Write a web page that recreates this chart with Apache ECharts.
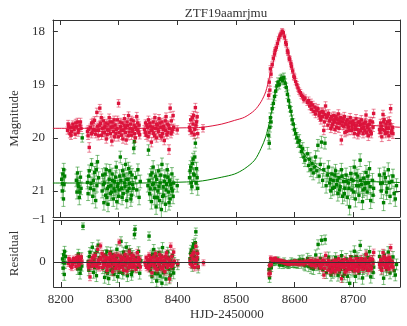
<!DOCTYPE html>
<html>
<head>
<meta charset="utf-8">
<script src="https://cdn.jsdelivr.net/npm/echarts@6/dist/echarts.min.js"></script>
<style>
  html, body { margin: 0; padding: 0; background: #fff; }
  #lc { width: 407px; height: 326px; }
</style>
</head>
<body>
<div id="lc"></div>
<script>
// light curve of ZTF19aamrjmu
var modelDays = [8188, 8250, 8333, 8416, 8443, 8476, 8498, 8515, 8532, 8543, 8551, 8557, 8562, 8568, 8573, 8576, 8580, 8584, 8587, 8590, 8593, 8596, 8601, 8605, 8611, 8620, 8626, 8631, 8639, 8648, 8659, 8670, 8681, 8698, 8720, 8750, 8780];
var redModel = [19.82, 19.82, 19.82, 19.81, 19.80, 19.74, 19.67, 19.61, 19.48, 19.32, 19.13, 18.87, 18.66, 18.38, 18.16, 18.07, 17.98, 18.12, 18.28, 18.42, 18.53, 18.68, 18.90, 19.00, 19.16, 19.29, 19.35, 19.40, 19.48, 19.54, 19.57, 19.61, 19.64, 19.70, 19.75, 19.78, 19.80];
var greenModel = [20.85, 20.85, 20.85, 20.83, 20.81, 20.74, 20.68, 20.58, 20.42, 20.20, 19.98, 19.72, 19.45, 19.12, 18.95, 18.88, 18.84, 18.91, 19.05, 19.23, 19.45, 19.62, 19.85, 19.99, 20.20, 20.36, 20.43, 20.48, 20.55, 20.61, 20.67, 20.72, 20.75, 20.80, 20.82, 20.83, 20.84];

// [HJD-2450000, mag, err]
var redObs = [
  [8213,19.86,.07],[8215,19.78,.06],[8217,19.92,.08],[8218,19.80,.06],[8220,19.88,.07],[8222,19.74,.06],[8224,19.84,.07],[8226,19.93,.08],[8228,19.79,.06],[8230,19.70,.07],[8232,19.85,.06],[8234,19.76,.07],[8236,19.82,.06],
  [8214,19.74,.07],[8219,19.95,.08],[8223,19.80,.07],[8227,19.72,.07],[8231,19.90,.07],[8235,19.70,.07],
  [8247,19.88,.08],[8248,19.96,.07],[8250,20.18,.09],[8252,19.80,.06],[8254,19.72,.07],[8255,19.90,.06],[8257,19.84,.08],[8259,19.67,.07],[8261,19.93,.07],[8263,19.52,.08],[8264,19.78,.06],[8266,19.86,.07],[8268,19.44,.07],[8269,19.73,.06],[8271,19.95,.08],[8272,19.82,.06],[8274,19.68,.07],[8276,19.90,.07],[8277,19.78,.06],[8279,20.02,.08],[8281,19.85,.07],[8282,19.74,.06],[8284,19.62,.07],[8286,19.92,.08],[8287,19.80,.06],[8289,19.70,.07],[8291,19.88,.07],[8293,19.98,.08],[8294,19.76,.06],[8296,19.84,.07],[8298,19.66,.07],[8300,19.35,.07],[8301,19.90,.07],[8303,19.79,.06],[8305,19.95,.08],[8306,19.72,.07],[8308,19.86,.06],[8310,19.64,.08],[8312,19.81,.06],[8313,20.04,.08],[8315,19.77,.07],[8317,19.58,.07],[8318,19.89,.06],[8320,19.74,.07],[8322,19.95,.08],[8324,19.83,.06],[8325,19.68,.07],[8327,19.92,.07],[8329,19.80,.06],[8331,19.60,.08],[8333,19.86,.07],[8335,19.76,.06],[8336,19.94,.08],
  [8248.5,19.84,.07],[8253.5,19.92,.08],[8256.5,19.70,.07],[8260.5,19.86,.07],[8265.5,19.96,.08],[8267.5,19.76,.07],[8270.5,19.62,.07],[8273.5,19.90,.08],[8275.5,19.80,.07],[8278.5,19.72,.07],[8280.5,19.94,.08],[8283.5,19.86,.07],[8285.5,19.70,.07],[8288.5,20.06,.09],[8290.5,19.78,.07],[8292.5,19.66,.07],[8295.5,19.92,.08],[8297.5,19.82,.07],[8299.5,19.98,.08],[8302.5,19.70,.07],[8304.5,19.86,.07],[8307.5,20.02,.08],[8309.5,19.76,.07],[8311.5,19.90,.07],[8314.5,19.70,.07],[8316.5,19.96,.08],[8319.5,19.82,.07],[8321.5,19.66,.07],[8323.5,19.88,.07],[8326.5,19.76,.07],[8328.5,20.00,.08],[8330.5,19.84,.07],[8332.5,19.72,.07],[8334.5,19.90,.08],
  [8344,19.84,.07],[8346,19.72,.06],[8347,19.95,.08],[8349,19.80,.07],[8351,19.66,.07],[8352,19.90,.06],[8354,19.78,.07],[8356,20.08,.09],[8357,19.86,.07],[8359,19.70,.07],[8360,19.92,.08],[8362,19.62,.07],[8363,19.82,.06],[8365,20.00,.08],[8366,19.76,.06],[8368,19.88,.07],[8369,19.64,.08],[8371,19.96,.07],[8372,19.80,.06],[8374,19.70,.07],[8375,19.92,.08],[8377,19.78,.06],[8378,20.05,.08],[8380,19.86,.07],[8381,19.60,.07],[8383,19.74,.06],[8384,19.90,.07],[8386,20.22,.09],[8387,19.82,.06],[8388,19.44,.08],[8390,19.68,.07],[8391,19.88,.07],[8393,19.58,.08],[8394,19.80,.06],
  [8345.5,19.90,.07],[8348.5,19.76,.07],[8350.5,19.98,.08],[8353.5,19.72,.07],[8355.5,19.86,.07],[8358.5,19.80,.07],[8361.5,19.96,.08],[8364.5,19.74,.07],[8367.5,19.84,.07],[8370.5,19.72,.07],[8373.5,19.98,.08],[8376.5,19.84,.07],[8379.5,19.68,.07],[8382.5,19.94,.08],[8385.5,19.76,.07],[8389.5,19.92,.08],[8392.5,19.84,.07],
  [8400,19.85,.08],[8421,19.80,.07],[8423,19.66,.08],[8425,19.90,.07],[8427,19.74,.07],[8428,19.58,.08],[8430,19.84,.07],[8431,19.43,.08],[8433,19.70,.07],[8435,19.92,.08],[8444,19.82,.07],
  [8422,19.86,.08],[8426,19.62,.08],[8429,19.94,.08],[8432,19.76,.08],[8434,19.60,.08],
  [8556,19.20,.07],[8557,18.95,.06],[8558,19.10,.07],[8559,18.70,.06],[8560,18.80,.06],[8562,18.62,.05],[8564,18.50,.05],[8566,18.42,.05],[8567,18.35,.05],[8569,18.30,.05],[8571,18.22,.05],[8573,18.14,.05],[8575,18.08,.05],[8577,18.04,.05],[8579,17.99,.05],[8581,18.02,.05],[8583,18.10,.05],[8585,18.20,.05],[8586,18.24,.05],[8588,18.36,.05],[8589,18.40,.05],[8591,18.50,.05],[8592,18.52,.05],[8594,18.60,.05],[8595,18.66,.05],[8597,18.74,.05],[8599,18.84,.06],[8600,18.86,.06],[8602,18.94,.06],[8604,19.00,.06],[8606,19.06,.06],[8608,19.12,.06],[8610,19.15,.06],[8612,19.20,.06],[8614,19.22,.06],[8616,19.28,.06],[8618,19.25,.06],
  [8622,19.33,.06],[8624,19.30,.07],[8626,19.40,.07],[8628,19.34,.07],[8629,19.46,.07],[8631,19.38,.07],[8633,19.50,.07],[8635,19.42,.07],[8636,19.55,.07],[8638,19.48,.07],[8640,19.45,.08],[8642,19.58,.07],[8643,19.52,.07],[8645,19.66,.08],[8647,19.50,.07],[8648,19.60,.07],[8650,19.86,.08],[8652,19.56,.07],[8653,19.40,.08],[8655,19.62,.07],[8657,19.76,.08],[8658,19.54,.07],[8660,19.68,.07],[8662,19.82,.08],[8663,19.60,.07],[8665,19.74,.08],[8667,19.58,.07],[8668,19.70,.07],[8670,19.64,.08],[8672,19.80,.08],[8674,19.66,.07],[8675,19.55,.08],[8677,19.72,.07],[8679,19.62,.07],[8680,20.04,.09],[8682,19.70,.08],[8684,19.78,.07],[8685,19.60,.08],[8687,19.74,.07],[8689,19.88,.08],[8690,19.66,.07],[8692,19.80,.08],[8694,19.72,.07],[8695,19.62,.08],[8697,19.86,.08],[8699,19.75,.07],[8700,19.68,.07],[8702,19.92,.08],[8704,19.78,.07],[8705,19.64,.08],[8707,19.84,.07],[8709,19.70,.08],[8710,19.90,.08],[8712,19.76,.07],[8714,19.66,.08],[8715,19.82,.07],[8717,19.92,.08],[8719,19.72,.07],[8720,19.86,.08],[8722,19.57,.08],[8724,19.80,.07],[8726,19.96,.09],[8728,19.74,.07],[8730,19.88,.08],[8733,19.70,.08],[8735,19.54,.08],
  [8644,19.62,.07],[8649,19.52,.07],[8651,19.70,.08],[8656,19.58,.07],[8661,19.64,.07],[8664,19.78,.08],[8666,19.66,.07],[8669,19.84,.08],[8671,19.60,.07],[8673,19.72,.07],[8676,19.82,.08],[8678,19.68,.07],[8681,19.76,.08],[8683,19.64,.07],[8686,19.90,.08],[8688,19.70,.07],[8691,19.76,.08],[8693,19.86,.08],[8696,19.70,.07],[8698,19.80,.08],[8701,19.74,.07],[8703,19.84,.08],[8706,19.76,.07],[8708,19.94,.08],[8711,19.70,.07],[8713,19.86,.08],[8716,19.74,.07],[8718,19.80,.08],[8721,19.70,.07],[8723,19.90,.08],[8725,19.76,.07],[8727,19.84,.08],[8729,19.68,.07],[8731,19.92,.08],[8734,19.80,.08],
  [8745,19.84,.08],[8747,19.72,.07],[8749,19.98,.09],[8751,19.56,.08],[8753,19.66,.08],[8755,19.92,.08],[8757,19.82,.07],[8759,19.70,.08],[8761,19.96,.09],[8763,19.74,.07],[8764,19.45,.08],[8765,19.90,.08],[8767,19.80,.07],
  [8746,19.90,.08],[8748,19.78,.07],[8750,19.84,.08],[8752,19.70,.07],[8754,19.86,.08],[8756,19.74,.07],[8758,19.90,.08],[8760,19.82,.08],[8762,19.68,.08],[8766,19.86,.08],[8768,19.92,.09]
];

var greenObs = [
  [8203,20.78,.12],[8204,21.00,.13],[8205,20.68,.11],[8206,21.15,.14],[8207,20.88,.12],[8208,20.72,.12],[8204.5,20.86,.12],[8206.5,20.60,.12],
  [8228,20.80,.12],[8229,21.02,.13],[8230,20.66,.11],[8232,20.92,.12],[8233,21.12,.14],[8235,20.74,.11],[8236,20.95,.12],[8238,20.00,.08],[8231,20.86,.12],[8234,21.02,.13],
  [8247,20.84,.12],[8248,21.05,.13],[8250,20.62,.11],[8252,20.95,.13],[8254,20.50,.11],[8256,21.10,.14],[8257,20.80,.12],[8259,20.65,.11],[8261,21.18,.14],[8263,20.90,.12],[8264,20.45,.12],[8266,20.75,.11],[8249,20.72,.12],[8253,20.86,.12],[8258,20.98,.13],[8262,20.60,.12],
  [8272,21.00,.13],[8273,20.70,.12],[8275,21.22,.14],[8276,20.85,.12],[8278,21.08,.13],[8279,20.60,.11],[8281,20.95,.12],[8282,21.25,.14],[8284,20.78,.12],[8286,21.05,.13],[8287,20.90,.12],[8289,20.68,.11],[8291,21.15,.14],[8293,20.82,.12],[8294,21.00,.13],[8296,20.55,.11],[8298,20.92,.12],[8300,21.10,.14],
  [8274,20.88,.12],[8277,20.68,.12],[8280,21.12,.14],[8283,20.92,.13],[8285,20.62,.12],[8288,21.02,.13],[8290,20.80,.12],[8292,20.96,.13],[8295,20.74,.12],[8297,21.20,.14],[8299,20.86,.12],
  [8302,20.72,.12],[8303,20.36,.11],[8305,20.95,.13],[8307,20.62,.12],[8308,21.05,.13],[8310,20.85,.12],[8312,20.50,.11],[8314,21.18,.14],[8316,20.78,.12],[8318,20.95,.13],[8320,20.65,.12],[8322,21.08,.13],[8324,20.88,.12],[8326,20.20,.10],[8327,20.07,.09],[8329,20.75,.12],[8331,20.98,.13],[8333,20.60,.11],[8335,21.12,.14],[8337,20.82,.12],
  [8301,20.98,.13],[8304,20.80,.12],[8306,21.12,.14],[8309,20.70,.12],[8311,20.92,.13],[8313,20.78,.12],[8315,21.00,.13],[8317,20.58,.12],[8319,20.86,.12],[8321,21.15,.14],[8323,20.70,.12],[8325,20.95,.13],
  [8350,20.90,.12],[8351,20.23,.10],[8353,21.05,.13],[8355,20.70,.12],[8356,21.20,.14],[8358,20.88,.12],[8359,20.55,.12],[8361,21.12,.14],[8362,20.95,.13],[8364,21.30,.14],[8365,20.78,.12],[8367,21.00,.13],[8368,20.62,.11],[8370,21.18,.14],[8371,20.85,.12],[8373,21.35,.15],[8374,20.50,.12],[8376,20.92,.13],[8377,21.08,.13],[8379,20.72,.12],[8380,21.25,.14],[8382,20.88,.12],[8383,20.60,.11],[8385,21.02,.13],[8387,20.80,.12],[8388,21.15,.14],[8390,20.95,.12],[8391,20.68,.12],[8393,21.10,.14],[8394,20.85,.12],
  [8352,20.80,.12],[8354,20.96,.13],[8357,20.66,.12],[8360,20.86,.12],[8363,20.72,.12],[8366,21.12,.14],[8369,20.92,.13],[8372,20.70,.12],[8375,21.10,.14],[8378,20.82,.12],[8381,20.98,.13],[8384,20.74,.12],[8386,21.22,.14],[8389,20.88,.12],[8392,21.00,.13],
  [8400,20.90,.12],[8421,20.75,.12],[8423,20.55,.12],[8425,20.92,.13],[8427,20.40,.11],[8428,20.68,.12],[8430,20.36,.11],[8431,20.10,.09],[8432,20.85,.13],[8433,20.58,.12],[8435,20.95,.13],
  [8422,20.62,.12],[8424,20.85,.13],[8426,20.48,.12],[8429,20.70,.12],[8434,20.75,.13],
  [8556,19.95,.10],[8557,20.10,.11],[8558,19.80,.09],[8559,19.62,.09],[8560,19.70,.09],[8562,19.45,.08],[8564,19.35,.08],[8566,19.22,.08],[8568,19.12,.08],[8570,19.02,.08],[8572,18.95,.08],[8574,19.00,.08],[8576,18.90,.08],[8578,18.88,.08],[8580,18.92,.08],[8582,18.86,.08],[8584,18.97,.08],[8586,19.05,.08],[8588,19.18,.08],[8590,19.30,.09],[8592,19.42,.09],[8594,19.50,.09],[8596,19.66,.09],[8598,19.74,.10],[8600,19.85,.10],[8602,19.92,.10],[8604,20.00,.10],[8606,20.08,.10],[8608,20.05,.11],[8610,20.16,.11],[8612,20.26,.11],[8614,20.20,.11],[8616,20.36,.12],[8618,20.42,.12],
  [8622,20.30,.12],[8624,20.52,.12],[8626,20.40,.12],[8628,20.60,.13],[8630,20.48,.12],[8632,20.66,.13],[8634,20.55,.12],[8636,20.36,.12],[8638,20.62,.13],[8640,20.14,.11],[8642,20.72,.13],[8644,20.50,.12],[8646,20.08,.11],[8648,20.80,.13],[8650,20.60,.12],[8652,20.10,.11],[8654,20.90,.14],[8656,20.70,.13],[8658,20.55,.12],[8660,20.85,.13],[8662,21.00,.14],[8664,20.68,.13],[8666,20.80,.13],[8668,20.93,.14],[8670,20.62,.12],[8672,20.88,.13],[8674,21.05,.14],[8676,20.75,.13],[8678,20.92,.14],[8680,20.60,.12],[8682,21.10,.14],[8684,20.82,.13],[8686,20.95,.14],[8688,20.70,.13],[8690,21.12,.15],[8692,20.85,.13],[8694,21.30,.15],[8696,20.67,.13],[8698,20.98,.14],[8700,20.80,.13],[8702,20.55,.13],[8704,21.15,.15],[8706,20.90,.14],[8708,20.72,.13],[8710,21.08,.14],[8712,20.42,.12],[8714,20.88,.14],[8716,21.20,.15],[8718,20.76,.13],[8720,20.95,.14],[8722,20.65,.13],[8724,21.02,.14],[8726,20.85,.13],[8728,20.58,.13],[8730,21.18,.15],[8733,20.80,.13],[8735,20.95,.14],
  [8661,20.78,.13],[8665,20.95,.14],[8669,20.70,.13],[8673,20.80,.13],[8677,20.98,.14],[8681,20.72,.13],[8685,21.05,.14],[8689,20.82,.13],[8693,20.95,.14],[8697,20.78,.13],[8701,21.02,.14],[8705,20.68,.13],[8709,20.90,.14],[8713,20.80,.13],[8717,20.98,.14],[8721,20.86,.13],[8725,20.72,.13],[8729,20.92,.14],[8734,21.08,.14],
  [8745,20.70,.13],[8748,21.00,.14],[8750,20.85,.13],[8752,21.22,.15],[8755,20.75,.13],[8758,20.95,.14],[8760,20.60,.13],[8763,21.10,.14],[8766,20.82,.13],[8770,21.05,.14],[8774,20.90,.13],
  [8747,20.86,.13],[8753,20.68,.13],[8757,21.02,.14],[8762,20.84,.13],[8768,20.72,.13],[8772,21.15,.14]
];

var dayTicks = [8200, 8300, 8400, 8500, 8600, 8700];
var magTicks = [18, 19, 20, 21];
var resTicks = [-1, 0];

var RED = '#dc143c', GREEN = '#008000';
var FONT = 'Liberation Serif';
var INK = '#333';

// model value at day t (straight between read-off samples)
function modelAt(vals, t) {
  for (var i = 1; i < modelDays.length; i++) {
    if (t <= modelDays[i]) {
      var f = (t - modelDays[i - 1]) / (modelDays[i] - modelDays[i - 1]);
      return vals[i - 1] + f * (vals[i] - vals[i - 1]);
    }
  }
  return vals[vals.length - 1];
}

function residuals(obs, vals) {
  return obs.map(function (p) { return [p[0], p[1] - modelAt(vals, p[0]), p[2]]; });
}

function curve(vals) {
  return modelDays.map(function (d, i) { return [d, vals[i]]; });
}

function errBars(color, barColor) {
  return function (params, api) {
    var t = api.value(0), y = api.value(1), e = api.value(2);
    var p = api.coord([t, y]);
    var hi = api.coord([t, y - e]);
    var lo = api.coord([t, y + e]);
    var st = { stroke: barColor, lineWidth: 1 };
    return {
      type: 'group',
      children: [
        { type: 'line', shape: { x1: p[0], y1: hi[1], x2: p[0], y2: lo[1] }, style: st },
        { type: 'line', shape: { x1: p[0] - 2, y1: hi[1], x2: p[0] + 2, y2: hi[1] }, style: st },
        { type: 'line', shape: { x1: p[0] - 2, y1: lo[1], x2: p[0] + 2, y2: lo[1] }, style: st },
        { type: 'rect', shape: { x: p[0] - 1.7, y: p[1] - 1.7, width: 3.4, height: 3.4 }, style: { fill: color } }
      ]
    };
  };
}

var tickStyle = { inside: true, length: 5, lineStyle: { color: INK, width: 1 } };
var lineStyle = { show: true, onZero: false, lineStyle: { color: INK, width: 1 } };
var labelStyle = { fontFamily: FONT, fontSize: 13, color: INK };

function xAx(grid, pos, labels, name) {
  return {
    type: 'value', gridIndex: grid, position: pos, min: 8188, max: 8780,
    axisLine: lineStyle,
    axisTick: Object.assign({ customValues: dayTicks }, tickStyle),
    axisLabel: Object.assign({ show: labels, customValues: dayTicks, margin: 6,
      formatter: function (v) { return String(v); } }, labelStyle),
    splitLine: { show: false },
    name: name || '', nameLocation: 'middle', nameGap: 21,
    nameTextStyle: labelStyle
  };
}

function yAx(grid, pos, min, max, ticks, labels, name) {
  return {
    type: 'value', gridIndex: grid, position: pos, inverse: true, min: min, max: max,
    axisLine: lineStyle,
    axisTick: Object.assign({ customValues: ticks }, tickStyle),
    axisLabel: Object.assign({
      show: labels, customValues: ticks, margin: 8,
      formatter: function (v) { return v < 0 ? '\u2212' + Math.abs(v) : String(v); }
    }, labelStyle),
    splitLine: { show: false },
    name: name || '', nameLocation: 'middle', nameGap: 24, nameRotate: 90,
    nameTextStyle: labelStyle
  };
}

var redBar = 'rgba(220,20,60,0.5)', greenBar = 'rgba(0,128,0,0.5)';

var chart = echarts.init(document.getElementById('lc'));
chart.setOption({
  animation: false,
  title: {
    text: 'ZTF19aamrjmu', left: 221, top: 2, textAlign: 'center',
    textStyle: { fontFamily: FONT, fontSize: 13, fontWeight: 'normal', color: INK }
  },
  grid: [
    { left: 43, right: 7, top: 20, height: 197 },
    { left: 43, right: 7, top: 220, height: 67 }
  ],
  xAxis: [
    xAx(0, 'bottom', false),
    xAx(0, 'top', false),
    xAx(1, 'bottom', true, 'HJD-2450000'),
    xAx(1, 'top', false)
  ],
  yAxis: [
    yAx(0, 'left', 17.78, 21.49, magTicks, true, 'Magnitude'),
    yAx(0, 'right', 17.78, 21.49, magTicks, false),
    yAx(1, 'left', -1, 0.6, resTicks, true, 'Residual'),
    yAx(1, 'right', -1, 0.6, resTicks, false)
  ],
  series: [
    { type: 'custom', xAxisIndex: 0, yAxisIndex: 0, clip: true, encode: { x: 0, y: 1 },
      data: greenObs, renderItem: errBars(GREEN, greenBar) },
    { type: 'custom', xAxisIndex: 0, yAxisIndex: 0, clip: true, encode: { x: 0, y: 1 },
      data: redObs, renderItem: errBars(RED, redBar) },
    { type: 'line', xAxisIndex: 0, yAxisIndex: 0, data: curve(redModel), showSymbol: false, smooth: 0.3,
      lineStyle: { color: RED, width: 1 }, z: 3 },
    { type: 'line', xAxisIndex: 0, yAxisIndex: 0, data: curve(greenModel), showSymbol: false, smooth: 0.3,
      lineStyle: { color: GREEN, width: 1 }, z: 3 },
    { type: 'custom', xAxisIndex: 2, yAxisIndex: 2, clip: true, encode: { x: 0, y: 1 },
      data: residuals(greenObs, greenModel), renderItem: errBars(GREEN, greenBar),
      markLine: { silent: true, symbol: 'none', label: { show: false },
        lineStyle: { color: INK, width: 1, type: 'solid' }, data: [{ yAxis: 0 }] } },
    { type: 'custom', xAxisIndex: 2, yAxisIndex: 2, clip: true, encode: { x: 0, y: 1 },
      data: residuals(redObs, redModel), renderItem: errBars(RED, redBar) }
  ]
});
</script>
</body>
</html>
